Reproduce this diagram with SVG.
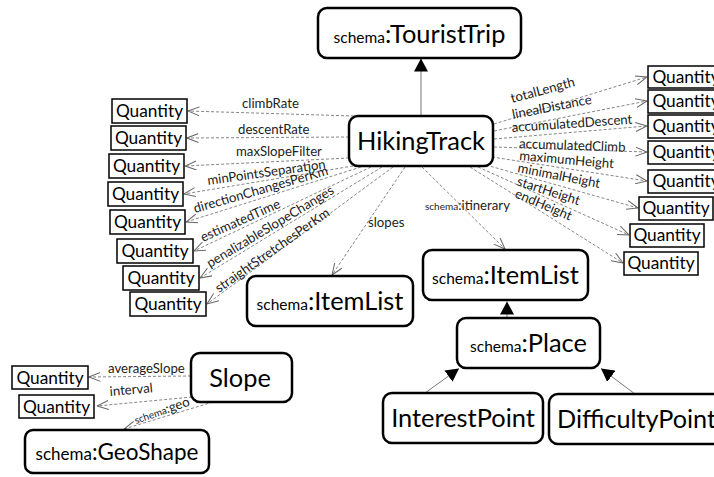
<svg xmlns="http://www.w3.org/2000/svg" width="714" height="477" viewBox="0 0 714 477">
<defs>
<style>
.node rect{fill:#fff;stroke:#000;stroke-width:2.5}
.q rect{fill:#fff;stroke:#000;stroke-width:1.5}
.t{font-family:Lato,"Open Sans",sans-serif;fill:#000}
.big{font-size:25.4px}
.sm{font-size:15.5px}
.qt{font-family:Lato,"Open Sans",sans-serif;font-size:17.3px;fill:#000;text-anchor:middle}
.dash{fill:none;stroke:#777;stroke-width:0.9;stroke-dasharray:3 2}
.solid{fill:none;stroke:#777;stroke-width:1}
.lbl{font-family:Lato,"Open Sans",sans-serif;font-size:13.2px;fill:#222}
.lsm{font-size:10px}
</style>
<marker id="open" viewBox="0 0 12 10" refX="11.5" refY="5" markerWidth="12" markerHeight="10" markerUnits="userSpaceOnUse" orient="auto">
<path d="M0,0.5 L11.5,5 L0,9.5" fill="none" stroke="#666" stroke-width="1"/>
</marker>
<marker id="tri" viewBox="0 0 13 14" refX="13" refY="7" markerWidth="13" markerHeight="14" markerUnits="userSpaceOnUse" orient="auto">
<path d="M0,0 L13,7 L0,14 z" fill="#000"/>
</marker>
</defs>
<rect width="714" height="477" fill="#fff"/>

<g id="connectors">
<line class="solid" x1="421" y1="116" x2="421" y2="58.5" marker-end="url(#tri)"/>
<line class="solid" x1="507" y1="318" x2="507" y2="301.5" marker-end="url(#tri)"/>
<line class="solid" x1="425" y1="393" x2="459" y2="368.5" marker-end="url(#tri)"/>
<line class="solid" x1="635" y1="394" x2="601" y2="368.5" marker-end="url(#tri)"/>
<!-- left -->
<line class="dash" x1="354" y1="116" x2="188" y2="111" marker-end="url(#open)"/>
<line class="dash" x1="349" y1="137" x2="187" y2="138" marker-end="url(#open)"/>
<line class="dash" x1="349" y1="158" x2="185" y2="166" marker-end="url(#open)"/>
<line class="dash" x1="353" y1="166" x2="184" y2="194" marker-end="url(#open)"/>
<line class="dash" x1="361" y1="167" x2="186" y2="222" marker-end="url(#open)"/>
<line class="dash" x1="371" y1="167" x2="194" y2="251" marker-end="url(#open)"/>
<line class="dash" x1="382" y1="167" x2="200" y2="278" marker-end="url(#open)"/>
<line class="dash" x1="393" y1="167" x2="207" y2="304" marker-end="url(#open)"/>
<line class="dash" x1="405" y1="167" x2="332" y2="275" marker-end="url(#open)"/>
<line class="dash" x1="422" y1="167" x2="505" y2="249" marker-end="url(#open)"/>
<!-- right -->
<line class="dash" x1="494" y1="124" x2="647" y2="77" marker-end="url(#open)"/>
<line class="dash" x1="494" y1="131" x2="647" y2="101" marker-end="url(#open)"/>
<line class="dash" x1="494" y1="139" x2="647" y2="126" marker-end="url(#open)"/>
<line class="dash" x1="494" y1="147" x2="647" y2="152" marker-end="url(#open)"/>
<line class="dash" x1="492" y1="157" x2="647" y2="181" marker-end="url(#open)"/>
<line class="dash" x1="486" y1="165" x2="638" y2="208" marker-end="url(#open)"/>
<line class="dash" x1="478" y1="167" x2="629" y2="235" marker-end="url(#open)"/>
<line class="dash" x1="470" y1="167" x2="623" y2="263" marker-end="url(#open)"/>
<!-- slope -->
<line class="dash" x1="191" y1="376" x2="89" y2="377" marker-end="url(#open)"/>
<line class="dash" x1="192" y1="397" x2="97" y2="406" marker-end="url(#open)"/>
<line class="dash" x1="213" y1="402" x2="124" y2="429" marker-end="url(#open)"/>
</g>

<g id="edge-labels">
<text class="lbl" x="242" y="108">climbRate</text>
<text class="lbl" x="238" y="134">descentRate</text>
<text class="lbl" x="236" y="156">maxSlopeFilter</text>
<text class="lbl" transform="translate(208,185) rotate(-8)">minPointsSeparation</text>
<text class="lbl" transform="translate(195,213) rotate(-16)">directionChangesPerKm</text>
<text class="lbl" transform="translate(203,242) rotate(-24)">estimatedTime</text>
<text class="lbl" transform="translate(210,268) rotate(-31)">penalizableSlopeChanges</text>
<text class="lbl" transform="translate(219,293) rotate(-35)">straightStretchesPerKm</text>
<text class="lbl" x="368" y="227">slopes</text>
<text class="lbl" x="425" y="210"><tspan class="lsm">schema</tspan>:itinerary</text>
<text class="lbl" transform="translate(512,103) rotate(-15)">totalLength</text>
<text class="lbl" transform="translate(513,119) rotate(-11)">linealDistance</text>
<text class="lbl" transform="translate(512,132) rotate(-4)">accumulatedDescent</text>
<text class="lbl" transform="translate(519,148) rotate(2)">accumulatedClimb</text>
<text class="lbl" transform="translate(519,160) rotate(5)">maximumHeight</text>
<text class="lbl" transform="translate(517,172) rotate(11)">minimalHeight</text>
<text class="lbl" transform="translate(516,185) rotate(18)">startHeight</text>
<text class="lbl" transform="translate(514,197) rotate(23)">endHeight</text>
<text class="lbl" x="108" y="373">averageSlope</text>
<text class="lbl" transform="translate(110,396) rotate(-5)">interval</text>
<text class="lbl" transform="translate(136,424) rotate(-19)"><tspan class="lsm">schema</tspan>:geo</text>
</g>

<g id="TouristTrip" class="node">
<rect x="318" y="8" width="203" height="50" rx="9"/>
<text class="t" x="419.5" y="43" text-anchor="middle"><tspan class="sm">schema</tspan><tspan class="big">:TouristTrip</tspan></text>
</g>
<g id="HikingTrack" class="node">
<rect x="349" y="116" width="144" height="50" rx="9"/>
<text class="t big" x="421" y="150" text-anchor="middle">HikingTrack</text>
</g>
<g id="ItemListSlopes" class="node">
<rect x="247" y="276" width="166" height="50" rx="9"/>
<text class="t" x="330" y="310" text-anchor="middle"><tspan class="sm">schema</tspan><tspan class="big">:ItemList</tspan></text>
</g>
<g id="ItemListItinerary" class="node">
<rect x="423" y="250" width="165" height="50" rx="9"/>
<text class="t" x="505.5" y="284" text-anchor="middle"><tspan class="sm">schema</tspan><tspan class="big">:ItemList</tspan></text>
</g>
<g id="Place" class="node">
<rect x="457" y="318" width="143" height="50" rx="9"/>
<text class="t" x="528.5" y="352" text-anchor="middle"><tspan class="sm">schema</tspan><tspan class="big">:Place</tspan></text>
</g>
<g id="InterestPoint" class="node">
<rect x="383" y="393" width="160" height="50" rx="9"/>
<text class="t big" x="463" y="427" text-anchor="middle">InterestPoint</text>
</g>
<g id="DifficultyPoint" class="node">
<rect x="549" y="394" width="180" height="50" rx="9"/>
<text class="t big" x="557" y="428" textLength="159" lengthAdjust="spacingAndGlyphs">DifficultyPoint</text>
</g>
<g id="Slope" class="node">
<rect x="191" y="353" width="101" height="49" rx="9"/>
<text class="t big" x="240" y="387" text-anchor="middle">Slope</text>
</g>
<g id="GeoShape" class="node">
<rect x="25" y="430" width="184" height="43" rx="8"/>
<text class="t" x="117" y="460" text-anchor="middle"><tspan style="font-size:17px">schema</tspan><tspan style="font-size:22.5px">:GeoShape</tspan></text>
</g>

<g id="q-climbRate" class="q"><rect x="112" y="99" width="75" height="24"/><text class="qt" x="149.5" y="117">Quantity</text></g>
<g id="q-descentRate" class="q"><rect x="111" y="126" width="75" height="24"/><text class="qt" x="148.5" y="144">Quantity</text></g>
<g id="q-maxSlopeFilter" class="q"><rect x="109" y="154" width="75" height="24"/><text class="qt" x="146.5" y="172">Quantity</text></g>
<g id="q-minPointsSeparation" class="q"><rect x="108" y="182" width="75" height="24"/><text class="qt" x="145.5" y="200">Quantity</text></g>
<g id="q-directionChangesPerKm" class="q"><rect x="110" y="210" width="75" height="24"/><text class="qt" x="147.5" y="228">Quantity</text></g>
<g id="q-estimatedTime" class="q"><rect x="117" y="239" width="76" height="24"/><text class="qt" x="155" y="257">Quantity</text></g>
<g id="q-penalizableSlopeChanges" class="q"><rect x="123" y="266" width="76" height="24"/><text class="qt" x="161" y="284">Quantity</text></g>
<g id="q-straightStretchesPerKm" class="q"><rect x="130" y="292" width="76" height="24"/><text class="qt" x="168" y="310">Quantity</text></g>

<g id="q-totalLength" class="q"><rect x="648" y="66" width="76" height="22"/><text class="qt" x="686" y="83">Quantity</text></g>
<g id="q-linealDistance" class="q"><rect x="648" y="90" width="76" height="23"/><text class="qt" x="686" y="107">Quantity</text></g>
<g id="q-accumulatedDescent" class="q"><rect x="648" y="115" width="76" height="23"/><text class="qt" x="686" y="132">Quantity</text></g>
<g id="q-accumulatedClimb" class="q"><rect x="648" y="141" width="76" height="23"/><text class="qt" x="686" y="158">Quantity</text></g>
<g id="q-maximumHeight" class="q"><rect x="648" y="170" width="76" height="23"/><text class="qt" x="686" y="187">Quantity</text></g>
<g id="q-minimalHeight" class="q"><rect x="639" y="197" width="74" height="23"/><text class="qt" x="676" y="214">Quantity</text></g>
<g id="q-startHeight" class="q"><rect x="630" y="224" width="74" height="23"/><text class="qt" x="667" y="241">Quantity</text></g>
<g id="q-endHeight" class="q"><rect x="624" y="252" width="74" height="23"/><text class="qt" x="661" y="269">Quantity</text></g>

<g id="q-averageSlope" class="q"><rect x="12" y="366" width="76" height="23"/><text class="qt" x="50" y="383.5">Quantity</text></g>
<g id="q-interval" class="q"><rect x="19" y="395" width="75" height="23"/><text class="qt" x="56.5" y="412.5">Quantity</text></g>
</svg>
